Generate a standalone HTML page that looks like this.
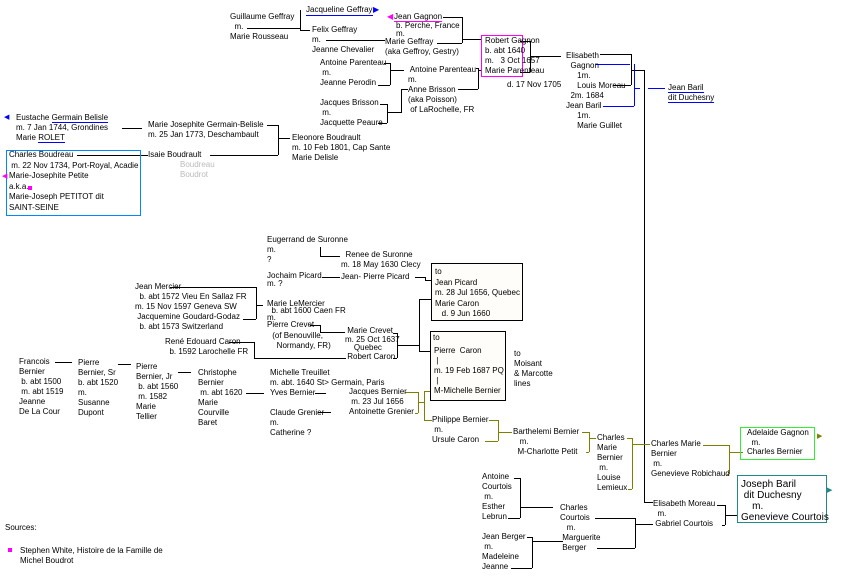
<!DOCTYPE html>
<html><head><meta charset="utf-8">
<style>
html,body{margin:0;padding:0;background:#fff;}
#c{position:relative;width:848px;height:580px;overflow:hidden;font-family:"Liberation Sans",sans-serif;font-size:8px;line-height:10px;color:#000;}
.t{position:absolute;white-space:pre;}
.b{position:absolute;box-sizing:border-box;}
.u{border-bottom:1px solid #00f;}
svg{position:absolute;left:0;top:0;}
</style></head><body><div id="c">
<svg width="848" height="580" fill="none" stroke-width="1" shape-rendering="crispEdges">
<g stroke="#000">
<path d="M247 28.5H300M300.5 10V30M300 30.5H310"/>
<path d="M326 40.5H385"/>
<path d="M443 17.5H462.5V43M437 43.5H462M462 39.5H481"/>
<path d="M384 63.5H390.5V85M378 85.5H390M390 70.5H404"/>
<path d="M380 104.5H387.5V123M378 123.5H387M387 112.5H401.5V89M401 89.5H408"/>
<path d="M476 68.5H478.5V89M458 89.5H478M478 70.5H482"/>
<path d="M520 41.5H530.5V72M520 72.5H530M530 56.5H561"/>
<path d="M600 54.5H631.5V85M613 85.5H631M631 70.5H644.5V502M644 502.5H653"/>
<path d="M122 128.5H142"/>
<path d="M267 125.5H278.5V155M210 155.5H278M278 138.5H290"/>
<path d="M77 155.5H148"/>
<path d="M320.5 247V256M320 256.5H340"/>
<path d="M322 277.5H340M415 277.5H425.5V280M425 280.5H433"/>
<path d="M170 287.5H256.5V319M243 319.5H256M256 305.5H263"/>
<path d="M310 325.5H320.5V332M320 332.5H345"/>
<path d="M393 333.5H397.5V358M393 358.5H397M397 345.5H419M419.5 299V351M419 299.5H432M419 351.5H433"/>
<path d="M229 342.5H254.5V358M254 358.5H346"/>
<path d="M55 362.5H72M118 364.5H131M178 372.5H191M246 393.5H264M315 393.5H326M318 412.5H331"/>
<path d="M717 505.5H725.5V525M722 525.5H725M725 515.5H737"/>
<path d="M514 478.5H520.5V518M508 518.5H520M520 507.5H553"/>
<path d="M595 518.5H635.5V548M597 548.5H635M635 524.5H653"/>
<path d="M527 537.5H532.5V568M511 568.5H532M532 541.5H563"/>
</g>
<g stroke="#00f">
<path d="M596 64.5H630M634.5 64V106M603 106.5H634M634 88.5H640M648 88.5H665"/>
</g>
<g stroke="#808000">
<path d="M405 392.5H418.5V413M415 413.5H418M418 402.5H424.5M424.5 391V420M424 391.5H432M424 420.5H432"/>
<path d="M489 420.5H498.5V441M485 441.5H498M498 432.5H512"/>
<path d="M582 432.5H589.5V452M586 452.5H589M589 438.5H596"/>
<path d="M627 438.5H632.5V489M628 489.5H632M632 444.5H650"/>
<path d="M703 445.5H729.5V474M727 474.5H729M729 452.5H743"/>
</g>
</svg>
<div class="b" style="left:481px;top:35px;width:42px;height:42px;border:1px solid #f0f;"></div>
<div class="b" style="left:6px;top:150px;width:135px;height:66px;border:1px solid #08f;"></div>
<div class="b" style="left:431px;top:263px;width:92px;height:58px;border:1px solid #000;background:#fffdfa;"></div>
<div class="b" style="left:430px;top:331px;width:76px;height:70px;border:1px solid #000;background:#fffdfa;"></div>
<div class="b" style="left:740px;top:427px;width:75px;height:33px;border:1px solid #3e3;"></div>
<div class="b" style="left:737px;top:475px;width:90px;height:48px;border:1px solid #288;"></div>
<div class="t" style="left:373px;top:5px;color:#00f;font-size:8px;">▶</div>
<div class="t" style="left:387px;top:12px;color:#f0f;font-size:8px;">◀</div>
<div class="t" style="left:4px;top:113px;color:#00f;font-size:7px;">◀</div>
<div class="t" style="left:2px;top:172px;color:#f0f;font-size:7px;">◀</div>
<div class="t" style="left:817px;top:432px;color:#808000;font-size:7px;">▶</div>
<div class="t" style="left:827px;top:486px;color:#288;font-size:7px;">▶</div>
<div class="b" style="left:28px;top:186px;width:4px;height:4px;background:#f0f;"></div>
<div class="b" style="left:8px;top:548px;width:4px;height:4px;background:#f0f;"></div>

<div class="t" style="left:230px;top:12px;">Guillaume Geffray
  m.
Marie Rousseau</div>
<div class="t u" style="left:306px;top:5px;line-height:10px;">Jacqueline Geffray</div>
<div class="t" style="left:312px;top:25px;">Felix Geffray
m.
Jeanne Chevalier</div>
<div class="t" style="left:394px;top:12px;"><span style="border-bottom:1px solid #f0f">Jean Gagnon</span></div>
<div class="t" style="left:396px;top:22px;line-height:8px;">b. Perche, France
m.</div>
<div class="t" style="left:385px;top:37px;">Marie Geffray
(aka Geffroy, Gestry)</div>
<div class="t" style="left:320px;top:58px;">Antoine Parenteau
 m.
Jeanne Perodin</div>
<div class="t" style="left:408px;top:65px;"> Antoine Parenteau
m.
Anne Brisson
(aka Poisson)
 of LaRochelle, FR</div>
<div class="t" style="left:320px;top:98px;">Jacques Brisson
 m.
Jacquette Peaure</div>
<div class="t" style="left:485px;top:36px;">Robert Gagnon
b. abt 1640
m.   3 Oct 1657
Marie Parenteau</div>
<div class="t" style="left:507px;top:80px;">d. 17 Nov 1705</div>
<div class="t" style="left:566px;top:51px;">Elisabeth
  Gagnon
     1m.
     Louis Moreau
  2m. 1684
Jean Baril
     1m.
     Marie Guillet</div>
<div class="t" style="left:668px;top:83px;"><span class="u">Jean Baril</span>
<span class="u">dit Duchesny</span></div>
<div class="t" style="left:16px;top:113px;">Eustache <span class="u">Germain Belisle</span>
m. 7 Jan 1744, Grondines
Marie <span class="u">ROLET</span></div>
<div class="t" style="left:148px;top:120px;">Marie Josephite Germain-Belisle
m. 25 Jan 1773, Deschambault</div>
<div class="t" style="left:292px;top:133px;">Eleonore Boudrault
m. 10 Feb 1801, Cap Sante
Marie Delisle</div>
<div class="t" style="left:9px;top:150px;line-height:10.5px;">Charles Boudreau
 m. 22 Nov 1734, Port-Royal, Acadie
Marie-Josephite Petite
a.k.a.
Marie-Joseph PETITOT dit
SAINT-SEINE</div>
<div class="t" style="left:148px;top:150px;">Isaie Boudrault</div>
<div class="t" style="left:180px;top:160px;color:#bbb;">Boudreau
Boudrot</div>
<div class="t" style="left:267px;top:235px;line-height:10px;">Eugerrand de Suronne
m.
?</div>
<div class="t" style="left:341px;top:250px;">  Renee de Suronne
m. 18 May 1630 Clecy</div>
<div class="t" style="left:267px;top:272px;line-height:8px;">Jochaim Picard
m. ?</div>
<div class="t" style="left:341px;top:272px;">Jean- Pierre Picard</div>
<div class="t" style="left:435px;top:267px;line-height:10.5px;">to
Jean Picard
m. 28 Jul 1656, Quebec
Marie Caron
   d. 9 Jun 1660</div>
<div class="t" style="left:135px;top:282px;">Jean Mercier
  b. abt 1572 Vieu En Sallaz FR
m. 15 Nov 1597 Geneva SW
 Jacquemine Goudard-Godaz
  b. abt 1573 Switzerland</div>
<div class="t" style="left:267px;top:300px;line-height:7px;">Marie LeMercier
  b. abt 1600 Caen FR
m.
Pierre Crevet</div>
<div class="t" style="left:270px;top:331px;"> (of Benouville,
   Normandy, FR)</div>
<div class="t" style="left:345px;top:327px;line-height:8.5px;"> Marie Crevet
m. 25 Oct 1637
    Quebec
 Robert Caron</div>
<div class="t" style="left:165px;top:337px;">René Edouard Caron
  b. 1592 Larochelle FR</div>
<div class="t" style="left:433px;top:333px;">to</div>
<div class="t" style="left:434px;top:346px;">Pierre  Caron
 |
m. 19 Feb 1687 PQ
 |
M-Michelle Bernier</div>
<div class="t" style="left:514px;top:349px;">to
Moisant
&amp; Marcotte
lines</div>
<div class="t" style="left:19px;top:357px;">Francois
Bernier
 b. abt 1500
 m. abt 1519
Jeanne
De La Cour</div>
<div class="t" style="left:78px;top:358px;">Pierre
Bernier, Sr
b. abt 1520
m.
Susanne
Dupont</div>
<div class="t" style="left:136px;top:362px;">Pierre
Bernier, Jr
 b. abt 1560
 m. 1582
Marie
Tellier</div>
<div class="t" style="left:198px;top:368px;">Christophe
Bernier
 m. abt 1620
Marie
Courville
Baret</div>
<div class="t" style="left:270px;top:368px;">Michelle Treuillet
m. abt. 1640 St&gt; Germain, Paris
Yves Bernier

Claude Grenier
m.
Catherine ?</div>
<div class="t" style="left:349px;top:387px;">Jacques Bernier
 m. 23 Jul 1656
Antoinette Grenier</div>
<div class="t" style="left:432px;top:415px;">Philippe Bernier
 m.
Ursule Caron</div>
<div class="t" style="left:513px;top:427px;">Barthelemi Bernier
   m.
  M-Charlotte Petit</div>
<div class="t" style="left:597px;top:433px;">Charles
Marie
Bernier
 m.
Louise
Lemieux</div>
<div class="t" style="left:651px;top:439px;">Charles Marie
Bernier
 m.
Genevieve Robichaud</div>
<div class="t" style="left:747px;top:428px;line-height:9.7px;">Adelaide Gagnon
  m.
Charles Bernier</div>
<div class="t" style="left:741px;top:479px;font-size:10px;line-height:11px;">Joseph Baril
 dit Duchesny
    m.
Genevieve Courtois</div>
<div class="t" style="left:653px;top:499px;">Elisabeth Moreau
  m.
 Gabriel Courtois</div>
<div class="t" style="left:482px;top:472px;">Antoine
Courtois
 m.
Esther
Lebrun</div>
<div class="t" style="left:560px;top:503px;">Charles
Courtois
   m.
 Marguerite
 Berger</div>
<div class="t" style="left:482px;top:532px;">Jean Berger
 m.
Madeleine
Jeanne</div>
<div class="t" style="left:5px;top:523px;">Sources:</div>
<div class="t" style="left:20px;top:546px;">Stephen White, Histoire de la Famille de
Michel Boudrot</div>
</div></body></html>
